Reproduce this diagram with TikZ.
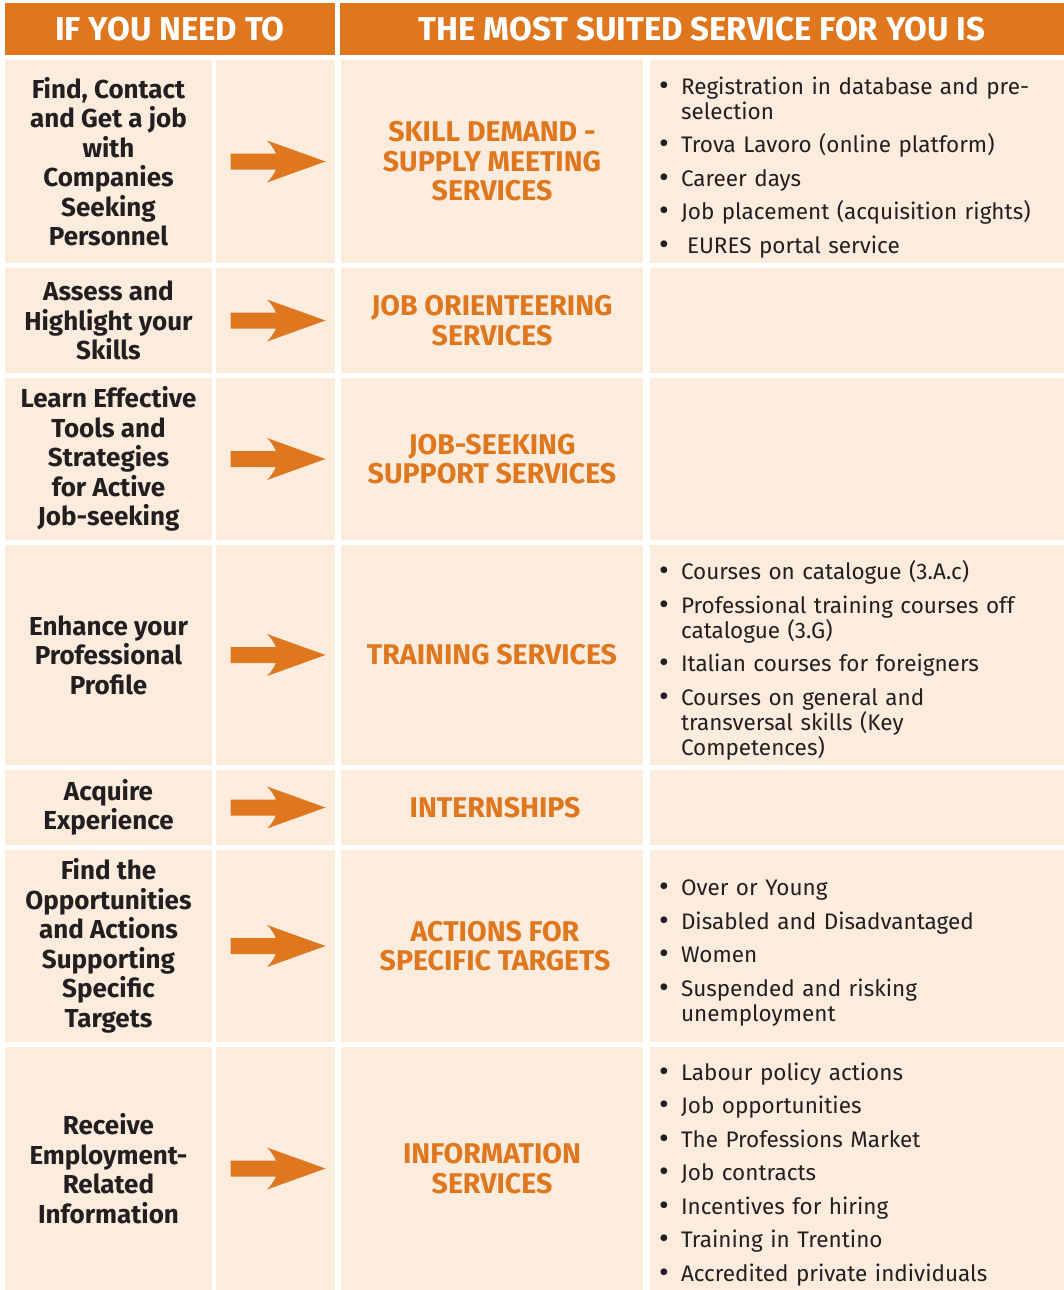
\documentclass[tikz,border=0pt]{standalone}
\usepackage{fontspec}
\setmainfont{Fira Sans}
\definecolor{hdorange}{HTML}{DF771E}
\definecolor{cellbg}{HTML}{FBECDE}
\definecolor{txtdark}{HTML}{231F20}
\newcommand{\offer}[1]{\par\noindent\hangindent=22pt\hangafter=1\makebox[22pt][l]{\raisebox{-1pt}{\fontsize{30}{25}\selectfont\textbullet}}#1\par}
\tikzset{
  cell/.style={fill=cellbg, inner sep=0pt},
  heading/.style={fill=hdorange, text=white, inner sep=0pt, font=\fontsize{33}{36}\selectfont\bfseries},
  need/.style={text=txtdark, align=center, font=\fontsize{26}{29.5}\selectfont\bfseries},
  service/.style={text=hdorange, align=center, font=\fontsize{28.5}{29.5}\selectfont\bfseries},
  offers/.style={text=txtdark, anchor=west, text width=404pt, align=left, inner sep=0pt,
    font=\fontsize{22.5}{25}\selectfont\setlength{\parskip}{8.5pt}},
  orangearrow/.pic={
    \fill[hdorange] (-47,-8) -- (-1.5,-8) .. controls (-4,-13) and (-7,-18) .. (-10.5,-21)
      -- (48,0) -- (-10.5,21) .. controls (-7,18) and (-4,13) .. (-1.5,8) -- (-47,8) -- cycle;
  }
}
\begin{document}
\begin{tikzpicture}[x=1pt, y=-1pt]
  \useasboundingbox[fill=white] (0,0) rectangle (1064,1290);

  % header
  \node[heading, minimum width=330pt, minimum height=52pt] (hneed) at (170,29) {IF YOU NEED TO};
  \node[heading, minimum width=724pt, minimum height=52pt] (hservice) at (702,29) {THE MOST SUITED SERVICE FOR YOU IS};

  % cells: row centre / row height
  \foreach \c/\h [count=\i] in {161.5/203, 320.5/105, 459/162, 655/220, 807.5/75, 946/192, 1168.5/243} {
    \node[cell, minimum width=207pt, minimum height=\h pt] (n\i) at (108.5,\c) {};
    \node[cell, minimum width=119pt, minimum height=\h pt] (a\i) at (275.5,\c) {};
    \node[cell, minimum width=302pt, minimum height=\h pt] (s\i) at (492,\c) {};
    \node[cell, minimum width=414pt, minimum height=\h pt] (o\i) at (857,\c) {};
    \pic at ([xshift=2pt]a\i.center) {orangearrow};
  }

  % what you need
  \node[need] (need1) at (n1) {Find, Contact\\and Get a job\\with\\Companies\\Seeking\\Personnel};
  \node[need] (need2) at (n2) {Assess and\\Highlight your\\Skills};
  \node[need] (need3) at (n3) {Learn Effective\\Tools and\\Strategies\\for Active\\Job-seeking};
  \node[need] (need4) at (n4) {Enhance your\\Professional\\Profile};
  \node[need] (need5) at (n5) {Acquire\\Experience};
  \node[need] (need6) at (n6) {Find the\\Opportunities\\and Actions\\Supporting\\Specific\\Targets};
  \node[need] (need7) at (n7) {Receive\\Employment-\\Related\\Information};

  % services
  \node[service] (serv1) at (s1) {SKILL DEMAND -\\SUPPLY MEETING\\SERVICES};
  \node[service] (serv2) at (s2) {JOB ORIENTEERING\\SERVICES};
  \node[service] (serv3) at (s3) {JOB-SEEKING\\SUPPORT SERVICES};
  \node[service] (serv4) at (s4) {TRAINING SERVICES};
  \node[service] (serv5) at ([xshift=3pt]s5.center) {INTERNSHIPS};
  \node[service] (serv6) at ([xshift=3pt]s6.center) {ACTIONS FOR\\SPECIFIC TARGETS};
  \node[service] (serv7) at (s7) {INFORMATION\\SERVICES};

  % offers
  \node[offers] (list1) at ([xshift=9pt,yshift=2pt]o1.west) {%
    \offer{Registration in database and pre-\newline selection}
    \offer{Trova Lavoro (online platform)}
    \offer{Career days}
    \offer{Job placement (acquisition rights)}
    \offer{\hspace{6pt}EURES portal service}};
  \node[offers] (list4) at ([xshift=9pt,yshift=2pt]o4.west) {%
    \offer{Courses on catalogue (3.A.c)}
    \offer{Professional training courses off\newline catalogue (3.G)}
    \offer{Italian courses for foreigners}
    \offer{Courses on general and\newline transversal skills (Key\newline Competences)}};
  \node[offers] (list6) at ([xshift=9pt,yshift=2pt]o6.west) {%
    \offer{Over or Young}
    \offer{Disabled and Disadvantaged}
    \offer{Women}
    \offer{Suspended and risking\newline unemployment}};
  \node[offers] (list7) at ([xshift=9pt,yshift=2pt]o7.west) {%
    \offer{Labour policy actions}
    \offer{Job opportunities}
    \offer{The Professions Market}
    \offer{Job contracts}
    \offer{Incentives for hiring}
    \offer{Training in Trentino}
    \offer{Accredited private individuals}};
\end{tikzpicture}
\end{document}
